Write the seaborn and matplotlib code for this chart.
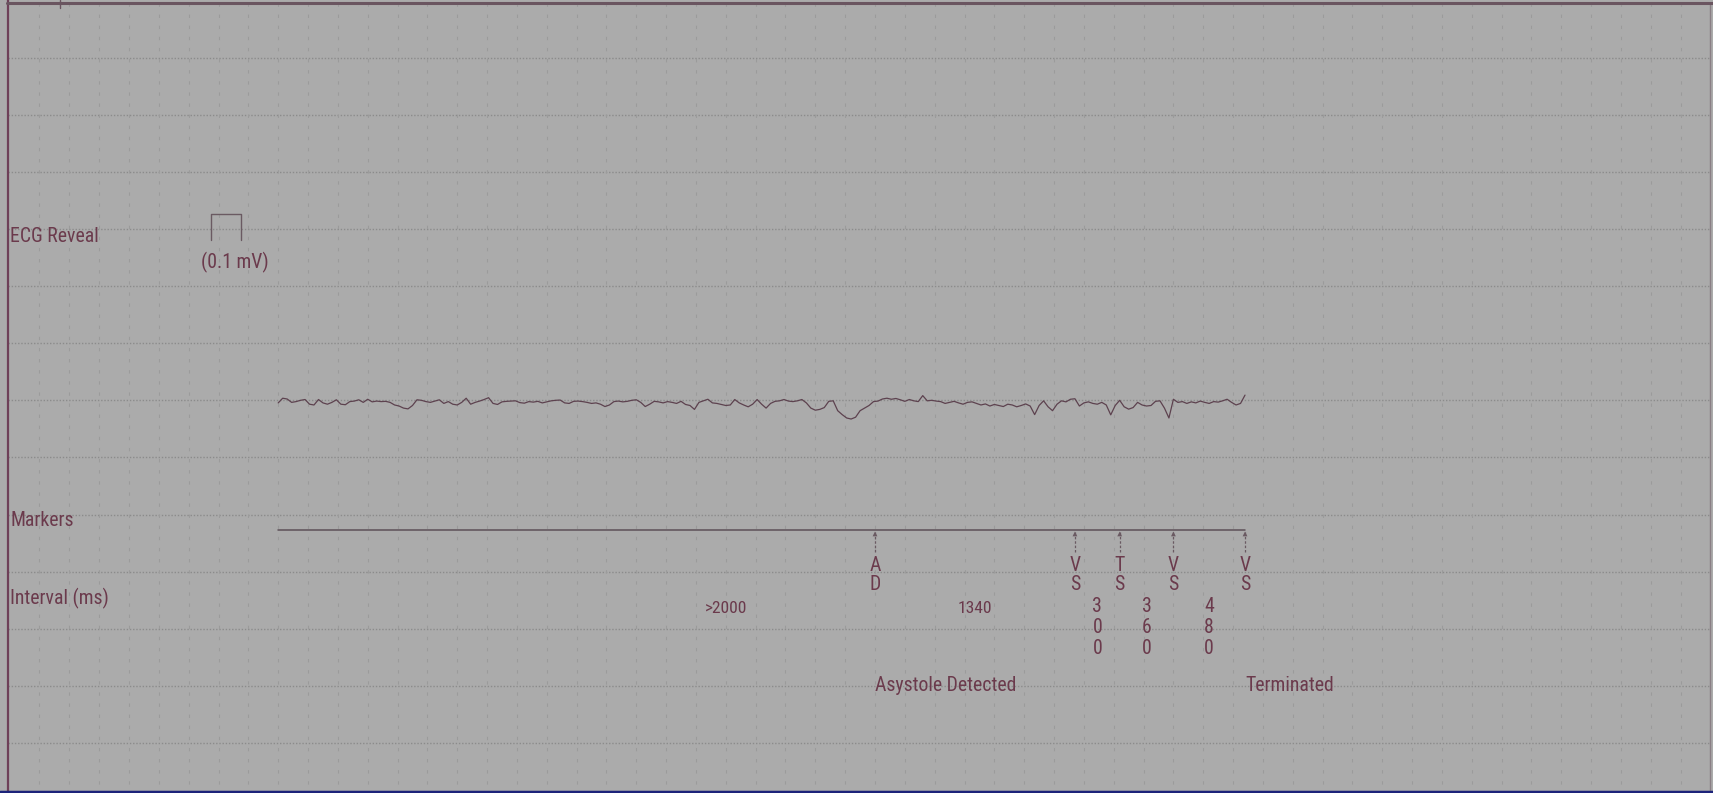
import os
import numpy as np
import pandas as pd
import matplotlib
matplotlib.use("Agg")
import matplotlib.pyplot as plt
import matplotlib.transforms as mtransforms
from matplotlib import font_manager
from matplotlib.font_manager import FontProperties
from matplotlib.textpath import TextPath
from matplotlib.lines import Line2D
import seaborn as sns

# ---------------------------------------------------------------- data
# ECG Reveal channel, one sample every 30 ms starting 4000 ms before
# asystole detection (values in mV)
ecg_start_ms = -4000
ecg_step_ms = 30
ecg_mv = [
    -0.010, 0.008, 0.005, -0.008, -0.005, 0.000, 0.003, -0.015, -0.018, 0.003,
    -0.010, -0.015, -0.008, 0.002, -0.015, -0.017, -0.005, -0.003, 0.002, -0.008,
    0.004, -0.006, -0.003, -0.005, -0.004, -0.008, -0.018, -0.022, -0.030, -0.033,
    -0.020, 0.002, 0.000, -0.005, -0.008, -0.003, 0.002, -0.012, -0.005, -0.015,
    -0.018, -0.008, 0.008, -0.015, -0.008, -0.003, 0.003, 0.010, -0.012, -0.016,
    -0.006, -0.004, -0.003, -0.002, -0.009, -0.011, -0.005, -0.007, -0.004, -0.010,
    -0.006, -0.002, 0.000, 0.001, -0.010, -0.012, -0.004, -0.003, -0.005, -0.008,
    -0.012, -0.010, -0.015, -0.024, -0.018, -0.005, -0.003, -0.006, -0.004, 0.000,
    0.002, -0.008, -0.024, -0.015, -0.004, -0.006, -0.010, -0.005, -0.008, -0.012,
    -0.004, -0.016, -0.020, -0.035, -0.008, -0.002, 0.004, -0.010, -0.012, -0.016,
    -0.020, -0.018, 0.003, -0.010, -0.018, -0.025, -0.015, 0.003, -0.015, -0.030,
    -0.012, -0.004, -0.002, 0.003, -0.003, -0.005, -0.002, 0.003, -0.010, -0.030,
    -0.038, -0.035, -0.028, -0.004, -0.002, -0.040, -0.055, -0.068, -0.072, -0.065,
    -0.040, -0.030, -0.020, -0.005, -0.003, 0.005, 0.008, 0.004, 0.007, 0.002,
    -0.004, 0.003, -0.002, -0.005, 0.018, -0.002, 0.000, -0.003, -0.005, -0.012,
    -0.008, -0.004, -0.010, -0.015, -0.008, -0.006, -0.012, -0.018, -0.014, -0.022,
    -0.016, -0.020, -0.024, -0.015, -0.018, -0.025, -0.020, -0.014, -0.022, -0.055,
    -0.020, -0.002, -0.025, -0.040, -0.015, -0.002, -0.006, 0.004, 0.006, -0.022,
    -0.010, -0.006, -0.012, -0.015, -0.008, -0.018, -0.056, -0.020, 0.000, -0.025,
    -0.034, -0.028, -0.008, -0.018, -0.022, -0.020, -0.004, -0.002, -0.030, -0.068,
    0.004, -0.008, -0.005, -0.012, -0.006, -0.010, -0.003, -0.008, -0.012, -0.005,
    -0.007, -0.002, 0.004, -0.008, -0.018, -0.012, 0.020,
]

# marker channel: event codes and the intervals between successive events
marker_codes = ["AD", "VS", "TS", "VS", "VS"]
marker_intervals_ms = [1340, 300, 360, 480]
interval_labels = ["1340", "300", "360", "480"]
lead_interval_ms = 2000
lead_interval_label = ">2000"

# episode annotations (attached to the first and last marker)
episode_labels = ["Asystole Detected", "Terminated"]

# calibration bar
calib_mv = 0.1
calib_ms = 200

row_labels = ["ECG Reveal", "Markers", "Interval (ms)"]

# ---------------------------------------------------------------- layout
FIG_W, FIG_H = 1713, 793
DPI = 100
PX_PER_MS = 0.1492          # paper speed
T0_PX = 875                 # x position of the detection marker
ROW_PX = 57.1               # spacing of horizontal rule lines
ROW_OFF = 0.6
PX_PER_MV = 260.0
ECG_ROW = 7

BG = "#ababab"
INK = "#6b3a4c"
TRACE = "#5d424f"
HGRID = "#8b8b8b"
VGRID = "#9b9b9b"

sns.set_style("white")


def narrow_font():
    """Pick the narrowest regular sans face that is installed."""
    wanted = ["liberationsansnarrow-regular", "arialn", "notosans-condensed.",
              "notosans-semicondensed.", "robotocondensed-regular",
              "opensans-condensed", "dejavusanscondensed."]
    files = [f.fname for f in font_manager.fontManager.ttflist]
    for key in wanted:
        for fn in files:
            if key in os.path.basename(fn).lower():
                return FontProperties(fname=fn)
    for f in font_manager.fontManager.ttflist:
        if f.stretch in ("condensed", "semi-condensed") and f.weight in (400, "normal") \
                and f.style == "normal":
            return FontProperties(fname=f.fname)
    return FontProperties(family="Liberation Sans")


FP = narrow_font()
plt.rcParams["font.family"] = ["DejaVu Sans"]


def fit_pt(s, width_px):
    """Font size (pt) at which the ink of `s` spans `width_px` pixels."""
    ext = TextPath((0, 0), s, size=100, prop=FP).get_extents()
    return 100 * width_px / ext.width * 72 / DPI


LABEL_PT = 1.05 * np.mean([fit_pt("Asystole Detected", 129), fit_pt("Markers", 57),
                           fit_pt("ECG Reveal", 87), fit_pt("Terminated", 81)])
SMALL_PT = 0.5 * (LABEL_PT + np.mean([fit_pt(">2000", 35), fit_pt("1340", 28)]))

fig = plt.figure(figsize=(FIG_W / DPI, FIG_H / DPI), dpi=DPI, facecolor=BG)
ax = fig.add_axes([0, 0, 1, 1])
x_lo = -T0_PX / PX_PER_MS
x_hi = (FIG_W - T0_PX) / PX_PER_MS
ax.set_xlim(x_lo, x_hi)
ax.set_ylim((FIG_H - ROW_OFF) / ROW_PX, -ROW_OFF / ROW_PX)
ax.axis("off")

ax_ecg = ax.twinx()
base_px = ROW_OFF + ECG_ROW * ROW_PX
ax_ecg.set_ylim(-(FIG_H - base_px) / PX_PER_MV, base_px / PX_PER_MV)
ax_ecg.axis("off")

left_t = (8 - T0_PX) / PX_PER_MS
right_t = (1709 - T0_PX) / PX_PER_MS

# ---------------------------------------------------------------- rules
rows = np.arange(1, 14)
ax.hlines(rows, left_t, right_t, colors=HGRID, lw=1.0,
          linestyles=(0, (1.0, 1.3)), zorder=1)
k_lo = int(np.ceil((12 - T0_PX) / PX_PER_MS / 200))
k_hi = int(np.floor((1705 - T0_PX) / PX_PER_MS / 200))
vt = np.arange(k_lo, k_hi + 1) * 200
ax.vlines(vt, 0.05, 13.9, colors=VGRID, lw=0.8,
          linestyles=(0, (3, 7)), zorder=1)

# page frame
frame = dict(transform=fig.transFigure, zorder=6)
fig.add_artist(Line2D([7.5 / FIG_W] * 2, [0, 1], color="#6e4058", lw=1.6, **frame))
fig.add_artist(Line2D([1709.5 / FIG_W] * 2, [0, 1 - 3 / FIG_H], color="#8a7f85", lw=1.0, **frame))
fig.add_artist(Line2D([7 / FIG_W, 1], [1 - 2.5 / FIG_H] * 2, color="#6a5560", lw=2.2, **frame))
fig.add_artist(Line2D([60 / FIG_W] * 2, [1, 1 - 8 / FIG_H], color="#6a5560", lw=1.0, **frame))
fig.add_artist(Line2D([0, 1], [1 / FIG_H] * 2, color="#1c237a", lw=2.5, **frame))

# ---------------------------------------------------------------- ECG trace
ecg = pd.DataFrame({
    "t": ecg_start_ms + ecg_step_ms * np.arange(len(ecg_mv)),
    "mv": ecg_mv,
})
sns.lineplot(data=ecg, x="t", y="mv", ax=ax_ecg, color=TRACE, lw=0.9,
             estimator=None, sort=False, legend=False, zorder=4)
ax_ecg.axis("off")

# calibration bracket (0.1 mV tall, 200 ms wide)
cal_x0 = -4450
cal_y0 = 0.617
ax_ecg.plot([cal_x0, cal_x0, cal_x0 + calib_ms, cal_x0 + calib_ms],
            [cal_y0, cal_y0 + calib_mv, cal_y0 + calib_mv, cal_y0],
            color="#6a5a62", lw=1.0, zorder=4)

# ---------------------------------------------------------------- labels
blend = mtransforms.blended_transform_factory(fig.transFigure, ax.transData)


def put(x, y, s, size, **kw):
    fp = FP.copy()
    fp.set_size(size)
    return ax.text(x, y, s, fontproperties=fp, color=INK, va="baseline", **kw)


put(10 / FIG_W, 4.22, row_labels[0], LABEL_PT, ha="left", transform=blend)
put(10 / FIG_W, 9.21, row_labels[1], LABEL_PT, ha="left", transform=blend)
put(10 / FIG_W, 10.57, row_labels[2], LABEL_PT, ha="left", transform=blend)
put(cal_x0 + calib_ms / 2 + 60, 4.68, f"({calib_mv} mV)", LABEL_PT, ha="center")

# ---------------------------------------------------------------- markers
marker_t = np.concatenate([[0], np.cumsum(marker_intervals_ms)])
marker_row = 9.27
sns.lineplot(x=[ecg["t"].iloc[0], marker_t[-1]], y=[marker_row, marker_row],
             ax=ax, color="#5e5058", lw=1.1, legend=False, zorder=3)
ax.vlines(marker_t, marker_row + 0.03, 9.66, colors="#6a5a62", lw=0.9,
          linestyles=(0, (2, 1.5)), zorder=3)
sns.scatterplot(x=marker_t, y=np.full(len(marker_t), marker_row + 0.07), ax=ax,
                marker="^", s=12, color="#6a5a62", edgecolor="none",
                legend=False, zorder=4)
for t, code in zip(marker_t, marker_codes):
    put(t, 9.99, code[0], LABEL_PT, ha="center")
    put(t, 10.32, code[1], LABEL_PT, ha="center")

# intervals: written at the midpoint between the two events they span
put(-lead_interval_ms / 2, 10.72, lead_interval_label, SMALL_PT, ha="center")
mid_t = (marker_t[:-1] + marker_t[1:]) / 2
for t, lab, ms in zip(mid_t, interval_labels, marker_intervals_ms):
    if ms >= 1000:
        put(t, 10.72, lab, SMALL_PT, ha="center")
    else:
        for j, ch in enumerate(lab):
            put(t, 10.71 + 0.37 * j, ch, LABEL_PT, ha="center")

put(marker_t[0], 12.09, episode_labels[0], LABEL_PT, ha="left")
put(marker_t[-1], 12.09, episode_labels[1], LABEL_PT, ha="left")

fig.savefig("out.png", dpi=DPI, facecolor=BG)
